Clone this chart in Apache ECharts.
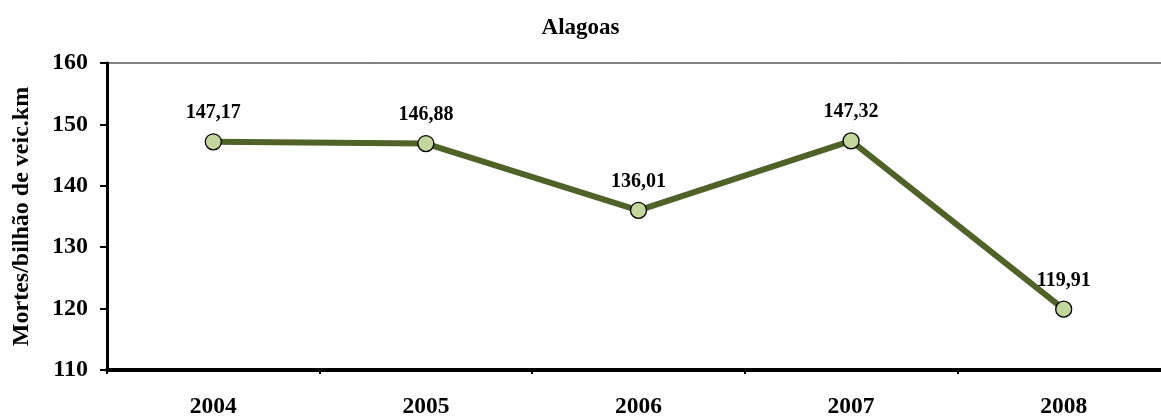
<!DOCTYPE html>
<html>
<head>
<meta charset="utf-8">
<script src="https://cdn.jsdelivr.net/npm/echarts@6/dist/echarts.min.js"></script>
<style>
  html, body { margin: 0; padding: 0; background: #fff; }
  #chart { width: 1161px; height: 420px; }
</style>
</head>
<body>
<div id="chart"></div>
<script>
// Road deaths per billion vehicle-km, Alagoas
const years = ['2004', '2005', '2006', '2007', '2008'];
const deathRate = [147.17, 146.88, 136.01, 147.32, 119.91];
const yTicks = { min: 110, max: 160, interval: 10 };

const serif = '"Liberation Serif", "Times New Roman", serif';
const chart = echarts.init(document.getElementById('chart'));

chart.setOption({
  animation: false,
  backgroundColor: '#ffffff',
  title: {
    text: 'Alagoas',
    left: 'center',
    top: 12,
    textStyle: { fontFamily: serif, fontWeight: 'bold', fontSize: 23, color: '#000' }
  },
  // plot area runs a little past the right edge of the canvas
  grid: {
    left: 107, top: 63, width: 1063, height: 307,
    outerBoundsMode: 'none',
    containLabel: false,
    show: true, borderColor: '#000', borderWidth: 1, backgroundColor: 'transparent'
  },
  xAxis: {
    type: 'category',
    data: years,
    boundaryGap: true,
    axisLine: { lineStyle: { color: '#000', width: 4 } },
    axisTick: { show: true, length: 4, inside: false, lineStyle: { color: '#000', width: 2 } },
    axisLabel: { fontFamily: serif, fontWeight: 'bold', fontSize: 23.5, color: '#000', margin: 25 },
    splitLine: { show: false }
  },
  yAxis: {
    type: 'value',
    min: yTicks.min, max: yTicks.max, interval: yTicks.interval,
    name: 'Mortes/bilhão de veic.km',
    nameLocation: 'middle',
    nameGap: 73,
    nameTextStyle: { fontFamily: serif, fontWeight: 'bold', fontSize: 24, color: '#000' },
    axisLine: { show: true, lineStyle: { color: '#000', width: 3 } },
    axisTick: { show: true, length: 7, lineStyle: { color: '#000', width: 2 } },
    axisLabel: { fontFamily: serif, fontWeight: 'bold', fontSize: 24, color: '#000', margin: 19 },
    splitLine: { show: false }
  },
  series: [{
    type: 'line',
    data: deathRate,
    symbol: 'circle',
    symbolSize: 16,
    lineStyle: { color: '#4f6228', width: 6 },
    itemStyle: { color: '#c3d69b', borderColor: '#000', borderWidth: 1.3 },
    label: {
      show: true,
      position: 'top',
      distance: 10,
      fontFamily: serif, fontWeight: 'bold', fontSize: 20, color: '#000',
      formatter: p => p.value.toFixed(2).replace('.', ',')
    },
    z: 3
  }]
});
</script>
</body>
</html>
